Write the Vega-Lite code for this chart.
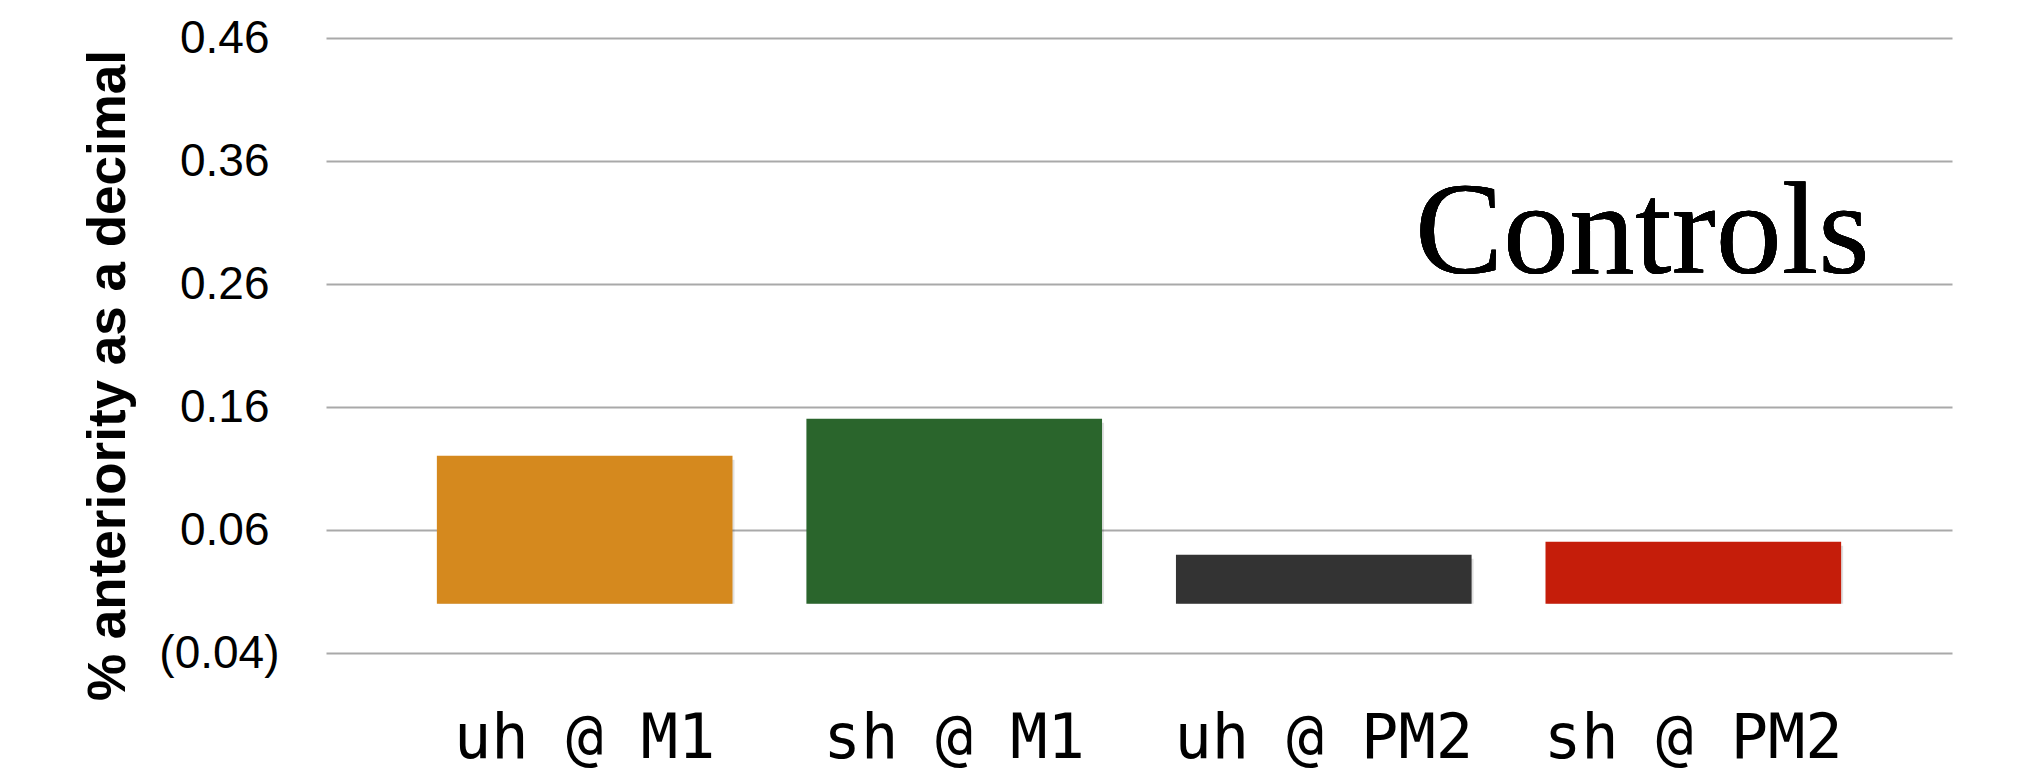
{
  "$schema": "https://vega.github.io/schema/vega-lite/v6.json",
  "autosize": {"type": "none"},
  "width": 1626,
  "height": 615,
  "padding": {"left": 326, "top": 38, "right": 75, "bottom": 121},
  "background": "white",
  "config": {"view": {"stroke": null}},
  "data": {
    "values": [
      {"group": "uh @ M1", "value": 0.1204},
      {"group": "sh @ M1", "value": 0.1505},
      {"group": "uh @ PM2", "value": 0.0399},
      {"group": "sh @ PM2", "value": 0.0505}
    ]
  },
  "encoding": {
    "x": {
      "field": "group",
      "type": "nominal",
      "sort": null,
      "scale": {"paddingInner": 0.2, "paddingOuter": 0.3},
      "axis": {
        "title": null,
        "domain": false,
        "ticks": false,
        "labelAngle": 0,
        "labelLimit": 0,
        "labelFont": "DejaVu Sans Mono",
        "labelFontSize": 62,
        "labelColor": "#000000",
        "labelBaseline": "alphabetic",
        "labelPadding": 104
      }
    },
    "y": {
      "field": "value",
      "type": "quantitative",
      "scale": {"domain": [-0.04, 0.46], "nice": false, "zero": false},
      "axis": {
        "values": [-0.04, 0.06, 0.16, 0.26, 0.36, 0.46],
        "labelExpr": "datum.value < 0 ? '(' + format(-datum.value, '.2f') + ')' : format(datum.value, '.2f')",
        "domain": false,
        "ticks": false,
        "grid": true,
        "gridColor": "#a9a9a9",
        "gridWidth": 2,
        "labelFont": "Liberation Sans",
        "labelFontSize": 46,
        "labelColor": "#000000",
        "labelPadding": {"condition": {"test": "datum.value < 0", "value": 47}, "value": 57},
        "title": "% anteriority as a decimal",
        "titleFont": "Liberation Sans",
        "titleFontWeight": "bold",
        "titleFontSize": 53,
        "titleColor": "#000000",
        "titleAngle": -90,
        "titleAlign": "center",
        "titleBaseline": "middle",
        "titleX": -218,
        "titleY": 337
      }
    }
  },
  "layer": [
    {
      "mark": {"type": "bar", "color": "#000000", "opacity": 0.12, "xOffset": 2, "yOffset": 4},
      "encoding": {"y2": {"datum": 0}}
    },
    {
      "mark": {"type": "bar"},
      "encoding": {
        "y2": {"datum": 0},
        "color": {
          "field": "group",
          "type": "nominal",
          "legend": null,
          "scale": {
            "domain": ["uh @ M1", "sh @ M1", "uh @ PM2", "sh @ PM2"],
            "range": ["#D5891E", "#2A652C", "#333333", "#C51D0A"]
          }
        }
      }
    },
    {
      "mark": {
        "type": "text",
        "text": "Controls",
        "font": "Liberation Serif",
        "fontSize": 132,
        "align": "center",
        "baseline": "alphabetic",
        "color": "#000000",
        "dx": -51
      },
      "encoding": {
        "x": {"datum": "sh @ PM2"},
        "y": {"datum": 0.269}
      }
    }
  ]
}
